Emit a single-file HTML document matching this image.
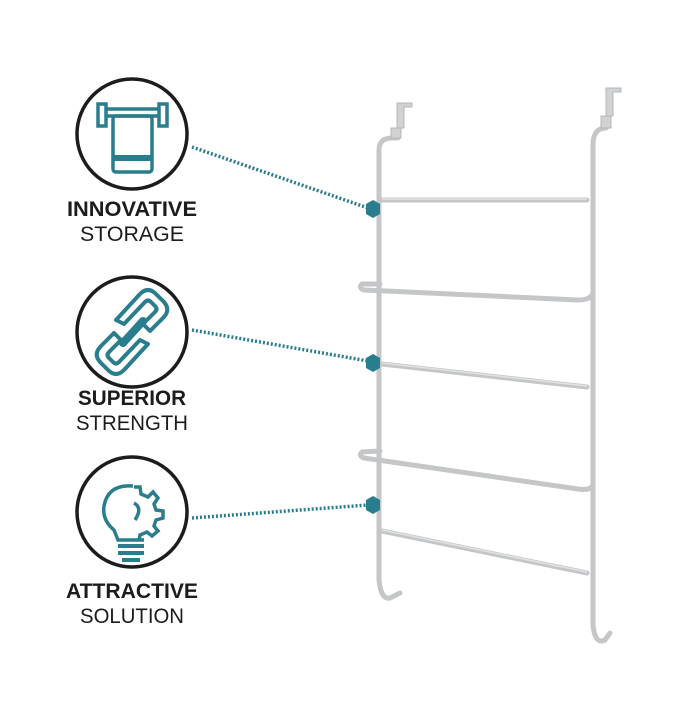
<!DOCTYPE html>
<html><head><style>
body{margin:0;background:#fff;width:700px;height:700px;overflow:hidden;font-family:"Liberation Sans",sans-serif}
</style></head><body>
<svg width="700" height="700" viewBox="0 0 700 700" xmlns="http://www.w3.org/2000/svg">
<g fill="none" stroke="#1c1c1c" stroke-width="3.5">
<circle cx="132" cy="134" r="55"/>
<circle cx="132" cy="332" r="55"/>
<circle cx="132" cy="512" r="55"/>
</g>
<!-- towel icon -->
<g fill="none" stroke="#2a7d8c" stroke-width="3.5">
<rect x="98" y="104" width="8" height="22"/>
<rect x="159" y="104" width="8" height="22"/>
<line x1="106" y1="109" x2="159" y2="109"/>
<line x1="106" y1="116" x2="159" y2="116"/>
<rect x="113" y="116" width="39" height="56" rx="3"/>
</g>
<rect x="113" y="155" width="39" height="6" fill="#2a7d8c"/>
<!-- chain icon -->
<g fill="none" stroke="#2a7d8c" stroke-width="4" stroke-linejoin="round">
<path d="M116 320 L140 294 Q148 286 156 294 L164 302 Q171 310 163 318 L150 331 L143 324 L155 312 Q158 309 155 306 L151 302 Q148 299 145 302 L124 324 Z"/>
<path d="M148 344 L124 370 Q116 378 108 370 L100 362 Q93 354 101 346 L114 333 L121 340 L109 352 Q106 355 109 358 L113 362 Q116 365 119 362 L140 340 Z"/>
</g>
<line x1="123" y1="343" x2="143" y2="321" stroke="#2a7d8c" stroke-width="8" stroke-linecap="round"/>
<!-- bulb icon -->
<g fill="none" stroke="#2a7d8c" stroke-width="3.5">
<path d="M133 486 Q108 484 104 506 Q102 520 114 530 L118 540 L144 540"/>
<path d="M134 487 L140 487 L141 494 L148 497 L153 492 L158 498 L154 504 L156 510 L163 511 L163 518 L156 520 L154 526 L158 531 L152 536 L147 532 L140 535 L139 540"/>
<path d="M134 503 Q143 508 135 520"/>
</g>
<g fill="#2a7d8c"><rect x="118" y="544" width="26" height="4"/><rect x="118" y="551" width="26" height="4"/><rect x="122" y="558" width="18" height="4"/></g>
<!-- labels -->
<g font-family="Liberation Sans, sans-serif" text-anchor="middle" fill="#1c1c1c" font-size="21">
<text x="132" y="216" font-weight="bold" textLength="130" lengthAdjust="spacingAndGlyphs">INNOVATIVE</text>
<text x="132" y="241" textLength="104" lengthAdjust="spacingAndGlyphs">STORAGE</text>
<text x="132" y="405" font-weight="bold" textLength="108" lengthAdjust="spacingAndGlyphs">SUPERIOR</text>
<text x="132" y="430" textLength="112" lengthAdjust="spacingAndGlyphs">STRENGTH</text>
<text x="132" y="598" font-weight="bold" textLength="132" lengthAdjust="spacingAndGlyphs">ATTRACTIVE</text>
<text x="132" y="623" textLength="104" lengthAdjust="spacingAndGlyphs">SOLUTION</text>
</g>
<!-- dotted connectors -->
<g stroke="#2a7d8c" stroke-width="3.5" stroke-dasharray="2 2">
<line x1="192" y1="147" x2="368" y2="208"/>
<line x1="192" y1="330" x2="368" y2="361"/>
<line x1="192" y1="518" x2="368" y2="505"/>
</g>
<!-- rack -->
<g fill="none" stroke="#c4c6c8" stroke-width="5" stroke-linecap="round">
<path d="M379 580 L379 150 Q379 138 392 138 L398 138"/>
<path d="M593 625 L593 145 Q593 128 606 128"/>
<path d="M379 580 Q381 600 390 598 L400 593"/>
<path d="M593 625 Q595 645 605 640 L610 633"/>
<line x1="382" y1="200" x2="587" y2="200"/>
<path d="M380 284 L362 284 Q358 288 364 290 L578 300 Q592 300 593 292"/>
<line x1="382" y1="364" x2="587" y2="387"/>
<path d="M380 451 L362 452 Q358 456 364 458 L578 489 Q592 491 593 484"/>
<line x1="382" y1="531" x2="587" y2="573"/>
</g>
<g fill="none" stroke="#e1e2e3" stroke-width="1.5">
<line x1="382" y1="199" x2="587" y2="199"/>
<line x1="382" y1="363" x2="587" y2="386"/>
<line x1="382" y1="530" x2="587" y2="572"/>
</g>
<g fill="#d0d2d4" stroke="#b5b7b9" stroke-width="1">
<path d="M397 128 L397 103 L412 103 L412 107 L404 107 L404 128 Z"/>
<rect x="391" y="128" width="10" height="10"/>
<path d="M606 116 L606 88 L621 88 L621 92 L613 92 L613 116 Z"/>
<rect x="601" y="116" width="10" height="12"/>
</g>
<!-- hexagons -->
<g fill="#2a7d8c">
<polygon points="366,204 373,200 380,204 380,214 373,218 366,214"/>
<polygon points="366,358 373,354 380,358 380,368 373,372 366,368"/>
<polygon points="366,500 373,496 380,500 380,510 373,514 366,510"/>
</g>
</svg>
</body></html>
